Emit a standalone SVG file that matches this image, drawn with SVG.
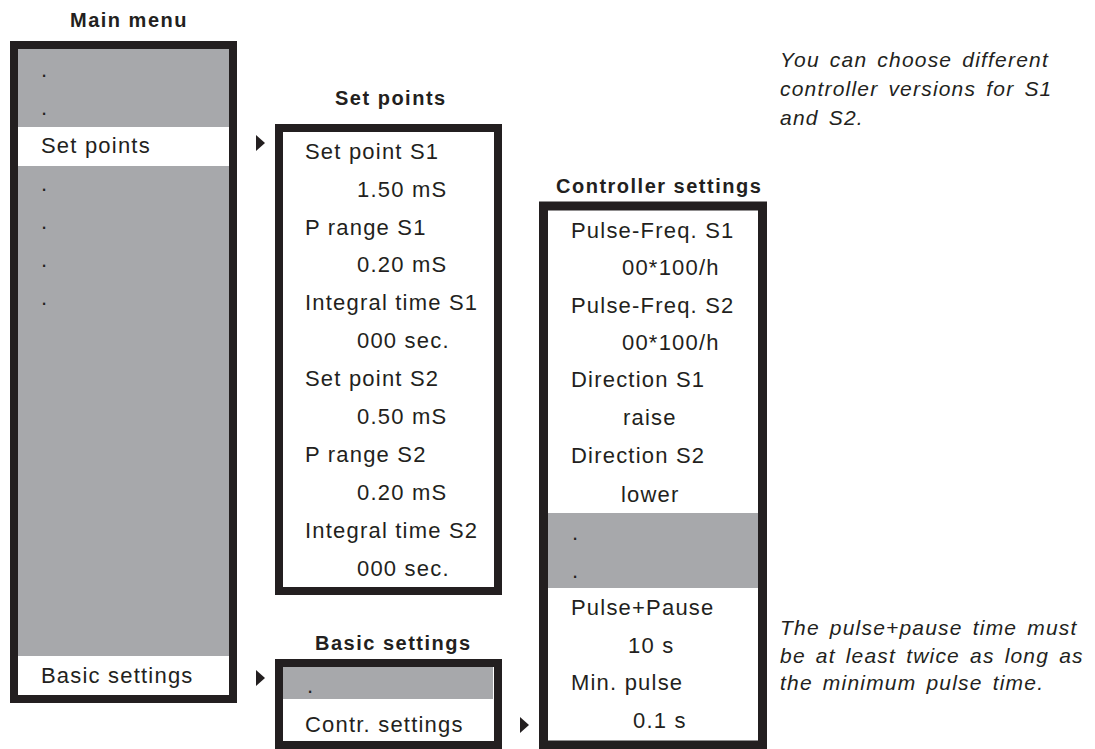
<svg xmlns="http://www.w3.org/2000/svg" width="1095" height="749" viewBox="0 0 1095 749">
<style>
.box{fill:#ffffff;stroke:#231f20;stroke-width:8}
.grey{fill:#a7a8ab}
.white{fill:#ffffff}
.t{font-family:"Liberation Sans",Arial,sans-serif;font-size:22px;letter-spacing:1.2px;fill:#231f20}
.h{font-family:"Liberation Sans",Arial,sans-serif;font-size:20px;font-weight:bold;letter-spacing:1.5px;fill:#231f20}
.n{font-family:"Liberation Sans",Arial,sans-serif;font-size:21px;font-style:italic;letter-spacing:1.2px;word-spacing:3px;fill:#231f20}
.arr{fill:#231f20}
</style>
<rect width="1095" height="749" fill="#ffffff"/>

<g id="main-menu">
<text class="h" x="70" y="27">Main menu</text>
<rect class="box" x="14" y="45" width="219" height="654" style="fill:#a7a8ab"/>
<rect class="white" x="18" y="127" width="211" height="39"/>
<rect class="white" x="18" y="656" width="211" height="39"/>
<text class="t" x="41" y="77">.</text>
<text class="t" x="41" y="115">.</text>
<text class="t" x="41" y="153">Set points</text>
<text class="t" x="41" y="191">.</text>
<text class="t" x="41" y="229">.</text>
<text class="t" x="41" y="267">.</text>
<text class="t" x="41" y="305">.</text>
<text class="t" x="41" y="683">Basic settings</text>
</g>

<g id="set-points">
<text class="h" x="335" y="105">Set points</text>
<rect class="box" x="279" y="128" width="219" height="463"/>
<text class="t" x="305" y="159">Set point S1</text>
<text class="t" x="357" y="197">1.50 mS</text>
<text class="t" x="305" y="235">P range S1</text>
<text class="t" x="357" y="272">0.20 mS</text>
<text class="t" x="305" y="310">Integral time S1</text>
<text class="t" x="357" y="348">000 sec.</text>
<text class="t" x="305" y="386">Set point S2</text>
<text class="t" x="357" y="424">0.50 mS</text>
<text class="t" x="305" y="462">P range S2</text>
<text class="t" x="357" y="500">0.20 mS</text>
<text class="t" x="305" y="538">Integral time S2</text>
<text class="t" x="357" y="576">000 sec.</text>
</g>

<g id="basic-settings">
<text class="h" x="315" y="650">Basic settings</text>
<rect class="box" x="279" y="663" width="219" height="82"/>
<rect class="grey" x="283" y="667" width="210" height="32"/>
<text class="t" x="307" y="693">.</text>
<text class="t" x="305" y="732">Contr. settings</text>
</g>

<g id="controller-settings">
<text class="h" x="556" y="193">Controller settings</text>
<rect class="box" x="543.5" y="206" width="219" height="539" style="stroke-width:9"/>
<rect class="grey" x="548" y="513" width="210" height="75"/>
<text class="t" x="571" y="238">Pulse-Freq. S1</text>
<text class="t" x="622" y="275">00*100/h</text>
<text class="t" x="571" y="313">Pulse-Freq. S2</text>
<text class="t" x="622" y="350">00*100/h</text>
<text class="t" x="571" y="387">Direction S1</text>
<text class="t" x="623" y="425">raise</text>
<text class="t" x="571" y="463">Direction S2</text>
<text class="t" x="621" y="502">lower</text>
<text class="t" x="572" y="540">.</text>
<text class="t" x="572" y="578">.</text>
<text class="t" x="571" y="615">Pulse+Pause</text>
<text class="t" x="628" y="653">10 s</text>
<text class="t" x="571" y="690">Min. pulse</text>
<text class="t" x="633" y="728">0.1 s</text>
</g>

<g id="connectors">
<polygon class="arr" points="256,135 256,151 265,143"/>
<polygon class="arr" points="256,670 256,686 265,678"/>
<polygon class="arr" points="520,717 520,733 529,725"/>
</g>

<g id="notes">
<text class="n" x="780" y="67">You can choose different</text>
<text class="n" x="780" y="96">controller versions for S1</text>
<text class="n" x="780" y="125">and S2.</text>
<text class="n" x="780" y="635">The pulse+pause time must</text>
<text class="n" x="780" y="663">be at least twice as long as</text>
<text class="n" x="780" y="690">the minimum pulse time.</text>
</g>
</svg>
